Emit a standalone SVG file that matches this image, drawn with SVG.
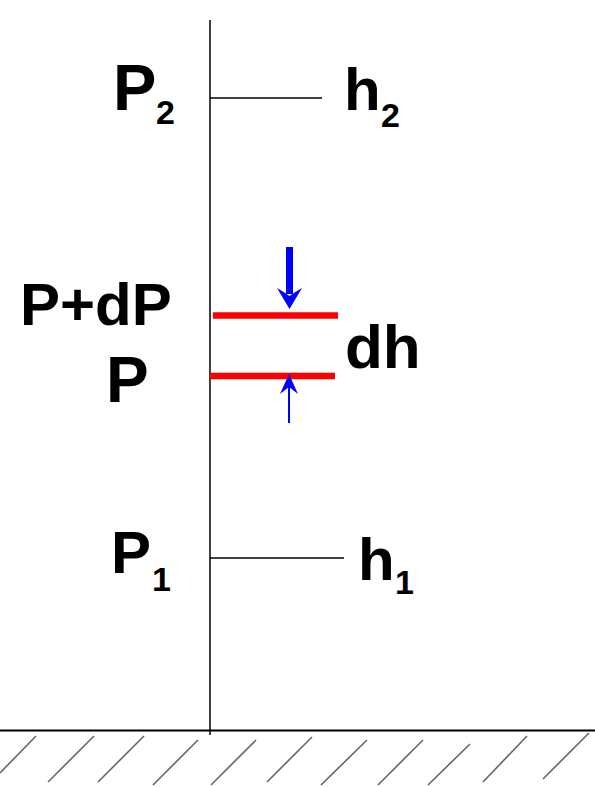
<svg xmlns="http://www.w3.org/2000/svg" width="595" height="787" viewBox="0 0 595 787">
<style>
.lbl{font-family:"Liberation Sans",Arial,sans-serif;font-weight:bold;fill:#000}
.ln{stroke:#000;stroke-width:1.5;fill:none}
.hatch{stroke:#666;stroke-width:1.6}
.red{stroke:#ff0000;stroke-width:6.5}
</style>
<rect width="595" height="787" fill="#fff"/>
<g id="connectors">
<line class="ln" x1="210" y1="20" x2="210" y2="735"/>
<line x1="0" y1="730.5" x2="595" y2="730.5" stroke="#000" stroke-width="2"/>
<line class="ln" x1="210" y1="98" x2="322" y2="98"/>
<line class="ln" x1="210" y1="558" x2="344" y2="558"/>
</g>
<g id="ground">
<line class="hatch" x1="36" y1="736" x2="0" y2="773"/>
<line class="hatch" x1="94" y1="736" x2="48" y2="782"/>
<line class="hatch" x1="144" y1="736" x2="98" y2="782"/>
<line class="hatch" x1="198" y1="740" x2="153" y2="785"/>
<line class="hatch" x1="256" y1="740" x2="211" y2="785"/>
<line class="hatch" x1="312" y1="737" x2="267" y2="782"/>
<line class="hatch" x1="367" y1="740" x2="321" y2="785"/>
<line class="hatch" x1="423" y1="740" x2="378" y2="785"/>
<line class="hatch" x1="470" y1="744" x2="428" y2="785"/>
<line class="hatch" x1="527" y1="736" x2="483" y2="782"/>
<line class="hatch" x1="589" y1="733" x2="543" y2="779"/>
</g>
<g id="element">
<line class="red" x1="213" y1="315.5" x2="338" y2="315.5"/>
<line class="red" x1="210" y1="376" x2="335" y2="376"/>
</g>
<g id="arrow-down">
<line x1="289.5" y1="247" x2="289.5" y2="294" stroke="#0000ff" stroke-width="7"/>
<path d="M289.5 309 L277 288 Q284 292 289.5 296 Q295 292 302 288 Z" fill="#0000ff"/>
</g>
<g id="arrow-up">
<line x1="289" y1="385" x2="289" y2="423" stroke="#0000ff" stroke-width="2"/>
<path d="M289 374 L280 394 Q285 390 289 387 Q293 390 298 394 Z" fill="#0000ff"/>
</g>
<g id="label-P2">
<text class="lbl" x="113" y="110" font-size="65">P</text>
<text class="lbl" x="156" y="124" font-size="34">2</text>
</g>
<g id="label-h2">
<text class="lbl" x="344" y="110" font-size="60">h</text>
<text class="lbl" x="381" y="127" font-size="34">2</text>
</g>
<g id="label-PdP">
<text class="lbl" x="20" y="325" font-size="60">P+dP</text>
</g>
<g id="label-P">
<text class="lbl" x="106" y="402" font-size="64">P</text>
</g>
<g id="label-dh">
<text class="lbl" x="345" y="368" font-size="62">dh</text>
</g>
<g id="label-P1">
<text class="lbl" x="111" y="573" font-size="60">P</text>
<text class="lbl" x="152" y="591" font-size="34">1</text>
</g>
<g id="label-h1">
<text class="lbl" x="358" y="580" font-size="60">h</text>
<text class="lbl" x="395" y="594" font-size="34">1</text>
</g>
</svg>
